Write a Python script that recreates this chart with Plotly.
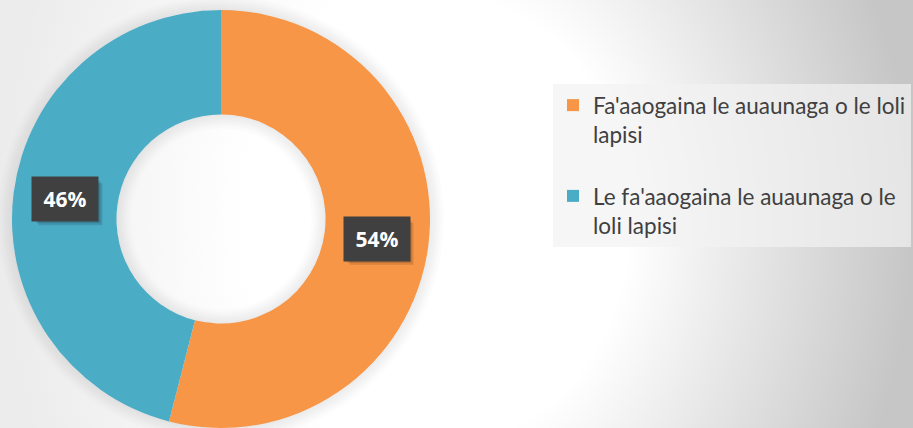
import math
import plotly.graph_objects as go

# data
labels = ["Fa'aaogaina le auaunaga o le loli<br>lapisi<br> ",
          "Le fa'aaogaina le auaunaga o le<br>loli lapisi"]
values = [54, 46]
colors = ['#f79646', '#4bacc6']

W, H = 913, 428
hole = 0.5
dom_x = [12 / W, 430 / W]
dom_y = [0.0, 418 / H]

# background glow: centre and half sizes in px (y from the bottom)
GX, GY, RX, RY = 440, 208, 473, 560

fig = go.Figure()

# grey glow towards the right (radial gradient follows the shape's bounding box)
fig.add_trace(go.Scatter(
    x=[GX - RX, GX + RX, GX + RX, GX - RX, GX - RX],
    y=[GY - RY, GY - RY, GY + RY, GY + RY, GY - RY],
    mode='lines', line=dict(width=0), fill='toself',
    fillgradient=dict(type='radial',
                      colorscale=[[0, '#ffffff'], [0.4, '#ffffff'], [1, '#c6c6c6']]),
    hoverinfo='skip', showlegend=False,
))
# lighter glow on the left half (zero-area spike keeps the box centred on GX)
fig.add_trace(go.Scatter(
    x=[0, GX, GX, 2 * GX, GX, 0, 0],
    y=[GY - RY, GY - RY, GY + RY, GY + RY, GY + RY, GY + RY, GY - RY],
    mode='lines', line=dict(width=0), fill='toself',
    fillgradient=dict(type='radial',
                      colorscale=[[0, '#ffffff'], [0.45, '#ffffff'], [1, '#ececec']]),
    hoverinfo='skip', showlegend=False,
))

fig.add_trace(go.Pie(
    labels=labels, values=values, hole=hole,
    sort=False, direction='clockwise', rotation=0,
    marker=dict(colors=colors, line=dict(width=0)),
    textinfo='none', hoverinfo='percent',
    domain=dict(x=dom_x, y=dom_y),
))

cx = (dom_x[0] + dom_x[1]) / 2 * W
cy = (dom_y[0] + dom_y[1]) / 2 * H
R = (dom_y[1] - dom_y[0]) * H / 2
r_hole = R * hole


def ring(r, alpha):
    fig.add_shape(type='circle', xref='paper', yref='paper', layer='above',
                  x0=(cx - r) / W, x1=(cx + r) / W, y0=(cy - r) / H, y1=(cy + r) / H,
                  line=dict(width=2, color=f'rgba(0,0,0,{alpha:.3f})'),
                  fillcolor='rgba(0,0,0,0)')


# soft shadow around the ring and inside the hole
for k in range(7):
    a = 0.075 * (1 - k / 7)
    ring(R + 1 + 2 * k, a)
    ring(r_hole - 1 - 2 * k, a)

# percentage labels in dark boxes, placed at the middle of each ring slice
r_mid = (R + r_hole) / 2
total = sum(values)
start = 0.0
bw, bh = 64, 42
for v in values:
    mid = (start + v / 2) / total * 2 * math.pi
    start += v
    px = cx + r_mid * math.sin(mid)
    py = cy + r_mid * math.cos(mid)
    for s, a in [(5, 0.12), (3, 0.15)]:
        fig.add_shape(type='rect', xref='paper', yref='paper', layer='above',
                      x0=(px - bw / 2 + s) / W, x1=(px + bw / 2 + s) / W,
                      y0=(py - bh / 2 - s) / H, y1=(py + bh / 2 - s) / H,
                      line=dict(width=0), fillcolor=f'rgba(0,0,0,{a})')
    fig.add_annotation(x=px / W, y=py / H, xref='paper', yref='paper',
                       xanchor='center', yanchor='middle',
                       text=f"<b>{round(v / total * 100)}%</b>", showarrow=False,
                       width=bw, height=bh, bgcolor='#404040',
                       font=dict(family='Open Sans', color='white', size=21))

fig.update_layout(
    width=W, height=H,
    margin=dict(l=0, r=0, t=0, b=0),
    paper_bgcolor='white', plot_bgcolor='rgba(0,0,0,0)',
    xaxis=dict(range=[0, W], domain=[0, 1], visible=False, fixedrange=True),
    yaxis=dict(range=[0, H], domain=[0, 1], visible=False, fixedrange=True),
    showlegend=True,
    legend=dict(x=553 / W, y=1 - 84 / H, xanchor='left', yanchor='top',
                valign='top', bgcolor='rgba(242,242,242,0.7)',
                font=dict(family='Lato', size=22.5, color='#404040')),
)

fig.write_html("out.html", config={'displayModeBar': False},
               post_script="document.body.style.margin='0';")
